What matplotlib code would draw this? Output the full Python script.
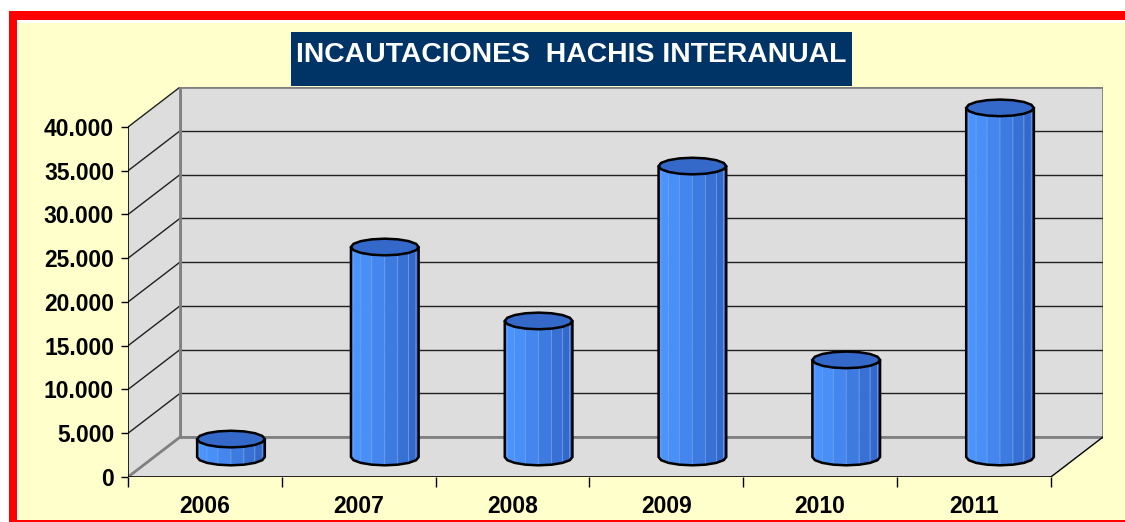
import numpy as np
import matplotlib
matplotlib.use("Agg")
import matplotlib.pyplot as plt
from matplotlib.patches import Polygon, Rectangle

years = ["2006", "2007", "2008", "2009", "2010", "2011"]
seizures = [2050, 24000, 15550, 33250, 11100, 39900]
y_ticks = [0, 5000, 10000, 15000, 20000, 25000, 30000, 35000, 40000]
y_max = 40000
title = "INCAUTACIONES  HACHIS INTERANUAL"

# oblique 3d look, offsets in data units
DX = 0.339
DY = 4571
BAR_W = 0.44
CAP_H = 1900
N_SIDES = 16

WALL = "#dddddd"
EDGE = "#808080"
LIGHT = np.array([0x4c, 0x96, 0xff]) / 255
DARK = np.array([0x31, 0x62, 0xc4]) / 255
TOP = "#3569c9"


def ring(cx, cy):
    th = np.linspace(0, 2 * np.pi, N_SIDES + 1)[:-1]
    return np.column_stack([cx + BAR_W / 2 * np.cos(th), cy + CAP_H / 2 * np.sin(th)]), th


def cylinder(ax, cx, y0, y1):
    bot, th = ring(cx, y0)
    top, _ = ring(cx, y1)
    n = len(th)
    # front facets (lower half of the ellipse)
    for k in range(n):
        j = (k + 1) % n
        mid = (th[k] + (th[j] if j else 2 * np.pi)) / 2
        if np.sin(mid) >= 0:
            continue
        t = (np.cos(mid) + 1) / 2
        col = LIGHT * (1 - t ** 1.3) + DARK * t ** 1.3
        quad = [bot[k], bot[j], top[j], top[k]]
        ax.add_patch(Polygon(quad, closed=True, facecolor=col,
                             edgecolor="#6a9fe8", lw=0.5, zorder=5))
    # silhouette of body
    front = [k for k in range(n // 2, n)] + [0]
    outline = [top[n // 2]] + [bot[k] for k in front] + [top[0]]
    ax.add_patch(Polygon(outline, closed=False, fill=False,
                         edgecolor="black", lw=1.8, zorder=6))
    ax.add_patch(Polygon(top, closed=True, facecolor=TOP,
                         edgecolor="black", lw=1.8, zorder=7))


fig = plt.figure(figsize=(11.25, 5.22), dpi=100)
fig.patch.set_facecolor("white")

# frame: red border and yellow panel
H = 522.0
W = 1125.0
frame = [
    ((18 / W, 2 / H), 1, 497 / H, "#ffffcc"),
    ((9 / W, (H - 20) / H), 1, 9 / H, "red"),
    ((9 / W, 0), 8 / W, (H - 11) / H, "red"),
    ((9 / W, 0), 1, 2 / H, "red"),
    ((291 / W, (H - 86) / H), 561 / W, 54 / H, "#003366"),  # title box
]
for xy, w, h, c in frame:
    fig.patches.append(Rectangle(xy, w, h, transform=fig.transFigure,
                                 facecolor=c, edgecolor="none", zorder=-5))

fig.text(571.5 / W, (H - 55) / H, title, color="white", fontsize=20.4,
         fontweight="bold", family="Liberation Sans", ha="center", va="center", zorder=3)

ax = fig.add_axes([128 / W, (H - 477) / H, (1103 - 128) / W, (477 - 87) / H])
ax.set_facecolor("none")
ax.set_xlim(0, len(years) + DX)
ax.set_ylim(0, y_max + DY)
for s in ax.spines.values():
    s.set_visible(False)

nx = len(years)
# back wall, side wall, floor
ax.add_patch(Polygon([(DX, DY), (nx + DX, DY), (nx + DX, y_max + DY), (DX, y_max + DY)],
                     facecolor=WALL, edgecolor=EDGE, lw=2, zorder=1))
ax.add_patch(Polygon([(0, 0), (DX, DY), (DX, y_max + DY), (0, y_max)],
                     facecolor=WALL, edgecolor="none", zorder=1))
ax.add_patch(Polygon([(0, 0), (nx, 0), (nx + DX, DY), (DX, DY)],
                     facecolor=WALL, edgecolor="none", zorder=1))

for v in y_ticks[1:-1]:
    ax.plot([DX, nx + DX], [v + DY, v + DY], color="#202020", lw=1, zorder=2)
for v in y_ticks[1:]:
    ax.plot([0, DX], [v, v + DY], color="#202020", lw=1, zorder=2)
ax.plot([0, DX], [0, DY], color=EDGE, lw=2, zorder=2)
ax.plot([DX, DX], [DY, y_max + DY], color=EDGE, lw=2, zorder=2)
ax.plot([DX, nx + DX], [DY, DY], color=EDGE, lw=2, zorder=2)
ax.plot([nx, nx + DX], [0, DY], color="black", lw=1, zorder=2)
ax.plot([0, nx], [0, 0], color="black", lw=1.2, zorder=3)
ax.plot([0, 0], [0, y_max], color="black", lw=1.2, zorder=3)

for i, v in enumerate(seizures):
    cx = i + 0.5 + DX / 2
    cylinder(ax, cx, DY / 2, v + DY / 2)

# axes ticks and labels
tick_font = dict(family="Liberation Sans", size=16.5, weight="bold")
ax.set_yticks(y_ticks)
ax.set_yticklabels([f"{v:,}".replace(",", ".") for v in y_ticks], fontdict=tick_font)
ax.tick_params(axis="y", direction="out", length=5, width=1, pad=5, color="black")
ax.set_xticks(range(nx + 1))
ax.set_xticklabels([])
ax.set_xticks(np.arange(nx) + 0.5, minor=True)
ax.set_xticklabels(years, minor=True, fontdict=tick_font)
ax.tick_params(axis="x", which="major", direction="out", length=7, width=1, color="black")
ax.tick_params(axis="x", which="minor", length=0, pad=13)

fig.savefig("out.png", dpi=100)
